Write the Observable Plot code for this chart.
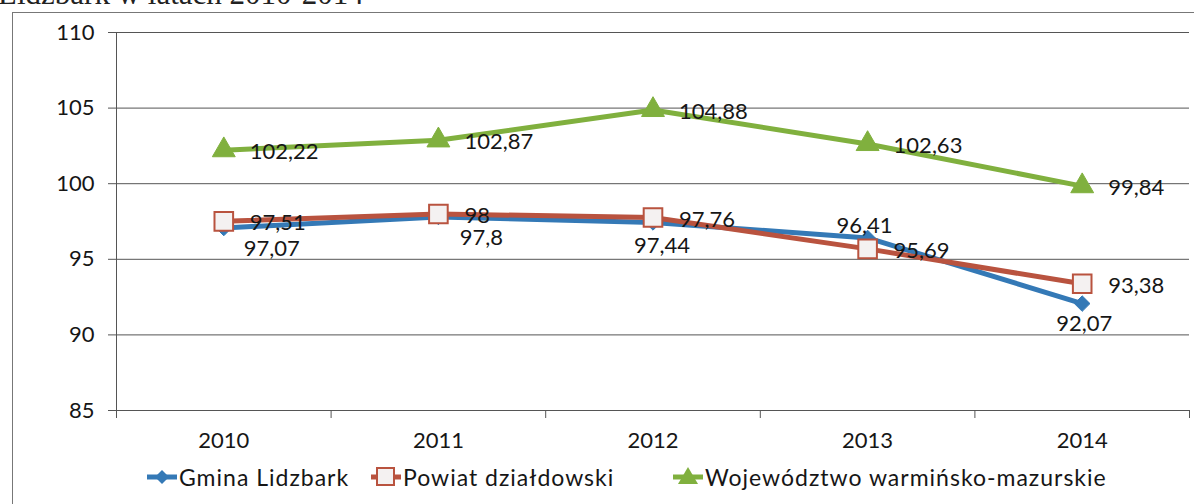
<!DOCTYPE html>
<html><head><meta charset="utf-8">
<script src="https://cdn.jsdelivr.net/npm/d3@7"></script>
<script src="https://cdn.jsdelivr.net/npm/@observablehq/plot@0.6"></script>
<style>
html,body{margin:0;padding:0;background:#fff;}
body{width:1194px;height:504px;overflow:hidden;position:relative;font-family:Lato,sans-serif;color:#161616;}
#title{position:absolute;left:-2px;top:-22px;font-family:"Liberation Serif",serif;font-size:31px;line-height:31px;white-space:nowrap;color:#222;}
#frame{position:absolute;left:12px;top:12px;width:1300px;height:600px;border:1.5px solid #777;box-sizing:border-box;}
#chart{position:absolute;left:0;top:0;}
.lg{position:absolute;top:463px;height:28px;display:flex;align-items:center;font-size:23px;letter-spacing:1px;white-space:nowrap;}
.lg svg{margin-right:2px;}
</style></head>
<body>
<div id="title">Lidzbark w latach 2010-2014</div>
<div id="frame"></div>
<div id="chart"></div>
<div id="legend"></div>
<script>
// ---- data ----
const years = [2010, 2011, 2012, 2013, 2014];
const seriesNames = ["Gmina Lidzbark", "Powiat działdowski", "Województwo warmińsko-mazurskie"];
const gmina = [97.07, 97.8, 97.44, 96.41, 92.07];
const powiat = [97.51, 98, 97.76, 95.69, 93.38];
const wojewodztwo = [102.22, 102.87, 104.88, 102.63, 99.84];
const yTicks = [85, 90, 95, 100, 105, 110];

// ---- style ----
const colors = ["#3479b6", "#b9533f", "#80b03e"];
const gminaLabelOffset = [[48, 21], [43, 21], [9, 24], [-3, -12], [2, 20]];
const sideLabelOffset = [26, 2];

const fmt = v => String(v).replace(".", ",");
const seriesValues = [gmina, powiat, wojewodztwo];
const rows = seriesValues.map((vals, s) => years.map((yr, i) => ({series: seriesNames[s], year: yr, value: vals[i], idx: i})));
const boundaries = [years[0] - 0.5, ...years.map(y => y + 0.5)];

const labelMarks = [];
rows[0].forEach(r => labelMarks.push(Plot.text([r], {x: "year", y: "value", text: d => fmt(d.value), dx: gminaLabelOffset[r.idx][0], dy: gminaLabelOffset[r.idx][1], textAnchor: "middle", fill: "#161616", fontSize: 22})));
[rows[1], rows[2]].forEach(rs => labelMarks.push(Plot.text(rs, {x: "year", y: "value", text: d => fmt(d.value), dx: sideLabelOffset[0], dy: sideLabelOffset[1], textAnchor: "start", fill: "#161616", fontSize: 22})));

const plot = Plot.plot({
  width: 1194, height: 460,
  marginLeft: 116, marginRight: 5, marginTop: 32, marginBottom: 50,
  x: {type: "linear", domain: [boundaries[0], boundaries[boundaries.length - 1]]},
  y: {domain: [yTicks[0], yTicks[yTicks.length - 1]]},
  style: {fontFamily: "Lato, sans-serif", fontSize: "22px", color: "#161616", background: "transparent", overflow: "visible"},
  marks: [
    Plot.gridY(yTicks, {stroke: "#555", strokeOpacity: 1, strokeWidth: 1}),
    Plot.axisY(yTicks, {tickSize: 8, tickPadding: 14, label: null, fontSize: 22, stroke: "#555", strokeOpacity: 1}),
    Plot.ruleX([boundaries[0]], {stroke: "#555", strokeWidth: 1, insetBottom: -8}),
    Plot.axisX(boundaries, {tickSize: 8, tickFormat: () => "", label: null, stroke: "#555", strokeOpacity: 1}),
    Plot.axisX(years, {tickSize: 0, tickPadding: 22, tickFormat: d => String(d), label: null, fontSize: 22}),
    // series 1
    Plot.line(rows[0], {x: "year", y: "value", stroke: colors[0], strokeWidth: 5, strokeLinejoin: "round"}),
    Plot.dot(rows[0], {x: "year", y: "value", symbol: "diamond2", r: 7, fill: colors[0], stroke: colors[0], strokeWidth: 1}),
    // series 2
    Plot.line(rows[1], {x: "year", y: "value", stroke: colors[1], strokeWidth: 5, strokeLinejoin: "round"}),
    Plot.dot(rows[1], {x: "year", y: "value", symbol: "square", r: 10.5, fill: "#f4f1f1", stroke: colors[1], strokeWidth: 2}),
    // series 3
    Plot.line(rows[2], {x: "year", y: "value", stroke: colors[2], strokeWidth: 5, strokeLinejoin: "round"}),
    Plot.dot(rows[2], {x: "year", y: "value", symbol: "triangle", r: 8.5, fill: colors[2], stroke: colors[2], strokeWidth: 1}),
    ...labelMarks
  ]
});
document.getElementById("chart").appendChild(plot);

// ---- legend ----
const legendLeft = [147, 371, 673];
const symbols = [
  c => `<path d="M15,7 L22,14 L15,21 L8,14 Z" fill="${c}"/>`,
  c => `<rect x="6" y="5" width="17" height="17" fill="#f4f1f1" stroke="${c}" stroke-width="2"/>`,
  c => `<path d="M15,4 L25,21 L5,21 Z" fill="${c}"/>`
];
const legend = document.getElementById("legend");
seriesNames.forEach((name, i) => {
  const d = document.createElement("div");
  d.className = "lg";
  d.style.left = legendLeft[i] + "px";
  d.innerHTML = `<svg width="30" height="28"><line x1="0" x2="30" y1="14" y2="14" stroke="${colors[i]}" stroke-width="5"/>${symbols[i](colors[i])}</svg><span>${name}</span>`;
  legend.appendChild(d);
});
</script>
</body></html>
